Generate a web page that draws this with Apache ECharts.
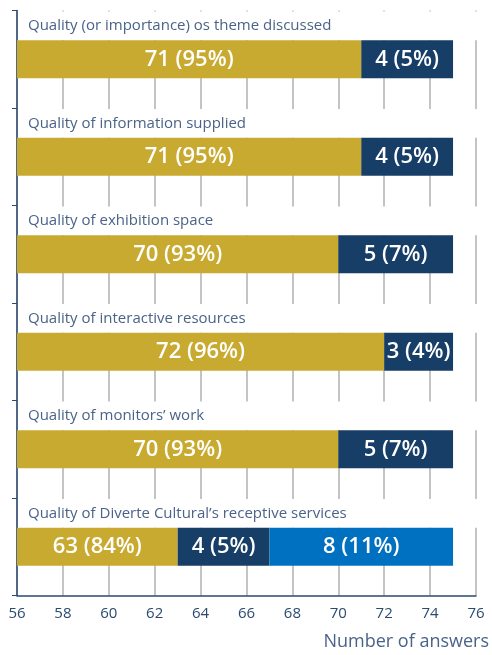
<!DOCTYPE html>
<html><head><meta charset="utf-8">
<script src="https://cdn.jsdelivr.net/npm/echarts@6/dist/echarts.min.js"></script>
<style>html,body{margin:0;padding:0;background:#fff}#c{width:492px;height:655px}</style>
</head><body><div id="c"></div>
<script>
const categories = [
  "Quality (or importance) os theme discussed",
  "Quality of information supplied",
  "Quality of exhibition space",
  "Quality of interactive resources",
  "Quality of monitors\u2019 work",
  "Quality of Diverte Cultural\u2019s receptive services"
];
const goldValues = [71, 71, 70, 72, 70, 63];
const goldPct = [95, 95, 93, 96, 93, 84];
const navyValues = [4, 4, 5, 3, 5, 4];
const navyPct = [5, 5, 7, 4, 7, 5];
const blueValues = [null, null, null, null, null, 8];
const bluePct = [null, null, null, null, null, 11];
const xTicks = [56, 58, 60, 62, 64, 66, 68, 70, 72, 74, 76];

const chart = echarts.init(document.getElementById('c'));
const labelFont = { color: '#fff', fontSize: 22, fontWeight: 600, fontFamily: 'Open Sans' };
function pctFormatter(pcts) {
  return p => p.value == null ? '' : p.value + ' (' + pcts[p.dataIndex] + '%)';
}
chart.setOption({
  animation: false,
  grid: { left: 17, right: 14.5, top: 10.5, bottom: 59.5, containLabel: false },
  xAxis: {
    type: 'value', min: xTicks[0], max: xTicks[xTicks.length - 1], interval: 2,
    name: 'Number of answers', nameLocation: 'end',
    nameTextStyle: { color: '#4a6388', fontSize: 18, fontFamily: 'Open Sans', align: 'right', verticalAlign: 'top', padding: [37, 2, 0, 0] },
    axisLine: { show: true, lineStyle: { color: '#2a4a70', width: 1.5 } },
    axisTick: { show: false },
    axisLabel: { color: '#2a4a70', fontSize: 15, fontFamily: 'Open Sans', margin: 11 },
    splitLine: { show: true, lineStyle: { color: '#b0b0b0', width: 1.5 } }
  },
  yAxis: {
    type: 'category', data: categories, inverse: true,
    axisLine: { show: true, lineStyle: { color: '#2a4a70', width: 1.5 } },
    axisTick: { show: true, length: 5, lineStyle: { color: '#2a4a70' } },
    axisLabel: { show: false },
    splitLine: { show: false }
  },
  series: [
    {
      type: 'custom', z: 1, silent: true,
      data: categories.map((c, i) => [xTicks[0], i]),
      renderItem: (params, api) => {
        const c = api.coord([api.value(0), api.value(1)]);
        const band = api.size([0, 1])[1];
        const top = c[1] - band / 2;
        const gw = params.coordSys.width;
        return {
          type: 'group', children: [
            { type: 'rect', shape: { x: c[0] + 1, y: top + 1, width: gw, height: band / 2 - 19 - 1 }, style: { fill: '#fff' } },
            { type: 'text', x: c[0] + 11, y: top + 15.5, style: { text: categories[params.dataIndex], fill: '#4a6388', fontSize: 15, fontFamily: 'Open Sans', verticalAlign: 'middle', align: 'left' } }
          ]
        };
      }
    },
    {
      type: 'bar', stack: 's', barWidth: 38, z: 2, data: goldValues,
      itemStyle: { color: '#C9AA30' },
      label: Object.assign({ show: true, position: 'inside', formatter: pctFormatter(goldPct) }, labelFont)
    },
    {
      type: 'bar', stack: 's', barWidth: 38, z: 2, data: navyValues,
      itemStyle: { color: '#173E67' },
      label: Object.assign({ show: true, position: 'inside', formatter: pctFormatter(navyPct) }, labelFont)
    },
    {
      type: 'bar', stack: 's', barWidth: 38, z: 2, data: blueValues,
      itemStyle: { color: '#0070C0' },
      label: Object.assign({ show: true, position: 'inside', formatter: pctFormatter(bluePct) }, labelFont)
    }
  ]
});
</script></body></html>
